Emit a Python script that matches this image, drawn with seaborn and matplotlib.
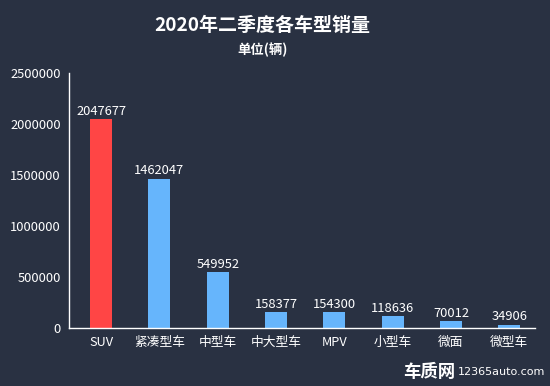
import matplotlib
matplotlib.use("Agg")
from matplotlib import pyplot as plt
import seaborn as sns
import pandas as pd

categories = ["SUV", "紧凑型车", "中型车", "中大型车", "MPV", "小型车", "微面", "微型车"]
sales = [2047677, 1462047, 549952, 158377, 154300, 118636, 70012, 34906]
bar_colors = ["#ff4545", "#66b5fc", "#66b5fc", "#66b5fc", "#66b5fc", "#66b5fc", "#66b5fc", "#66b5fc"]
y_ticks = [0, 500000, 1000000, 1500000, 2000000, 2500000]

bg = "#293142"
sns.set_style("dark")
plt.rcParams["font.family"] = ["Noto Sans CJK SC", "DejaVu Sans"]

df = pd.DataFrame({"category": categories, "sales": sales})

fig = plt.figure(figsize=(5.5, 3.86), dpi=100)
fig.patch.set_facecolor(bg)
ax = fig.add_axes([0.1255, 0.150, 0.848, 0.661])
ax.set_facecolor(bg)

sns.barplot(data=df, x="category", y="sales", hue="category", palette=bar_colors,
            legend=False, width=0.38, saturation=1, linewidth=0, edgecolor="none", ax=ax)

for cont in ax.containers:
    ax.bar_label(cont, fmt="%d", color="white", fontsize=9.3, padding=1)

ax.set_ylim(0, 2500000)
ax.set_yticks(y_ticks)
ax.set_yticklabels([str(t) for t in y_ticks])
ax.set_xlim(-0.55, 7.45)
ax.tick_params(axis="y", length=0, colors="white", labelsize=9.3, pad=6)
ax.tick_params(axis="x", length=0, colors="white", labelsize=9.2, pad=6)
ax.set_xlabel("")
ax.set_ylabel("")
ax.grid(False)
for side in ["top", "right"]:
    ax.spines[side].set_visible(False)
for side in ["left", "bottom"]:
    ax.spines[side].set_visible(True)
    ax.spines[side].set_color("white")
    ax.spines[side].set_linewidth(1)

fig.text(0.477, 0.935, "2020年二季度各车型销量", color="white", fontsize=13.7,
         fontweight="bold", ha="center", va="center")
fig.text(0.477, 0.872, "单位(辆)", color="white", fontsize=9.6,
         fontweight="bold", ha="center", va="center")

# watermark
fig.text(0.828, 0.036, "车质网", color="white", fontsize=12.5, fontweight="heavy",
         ha="right", va="center", style="italic")
fig.text(0.832, 0.036, "12365auto.com", color="white", fontsize=8,
         ha="left", va="center", family="DejaVu Sans")

fig.savefig("out.png", dpi=100, facecolor=bg)
